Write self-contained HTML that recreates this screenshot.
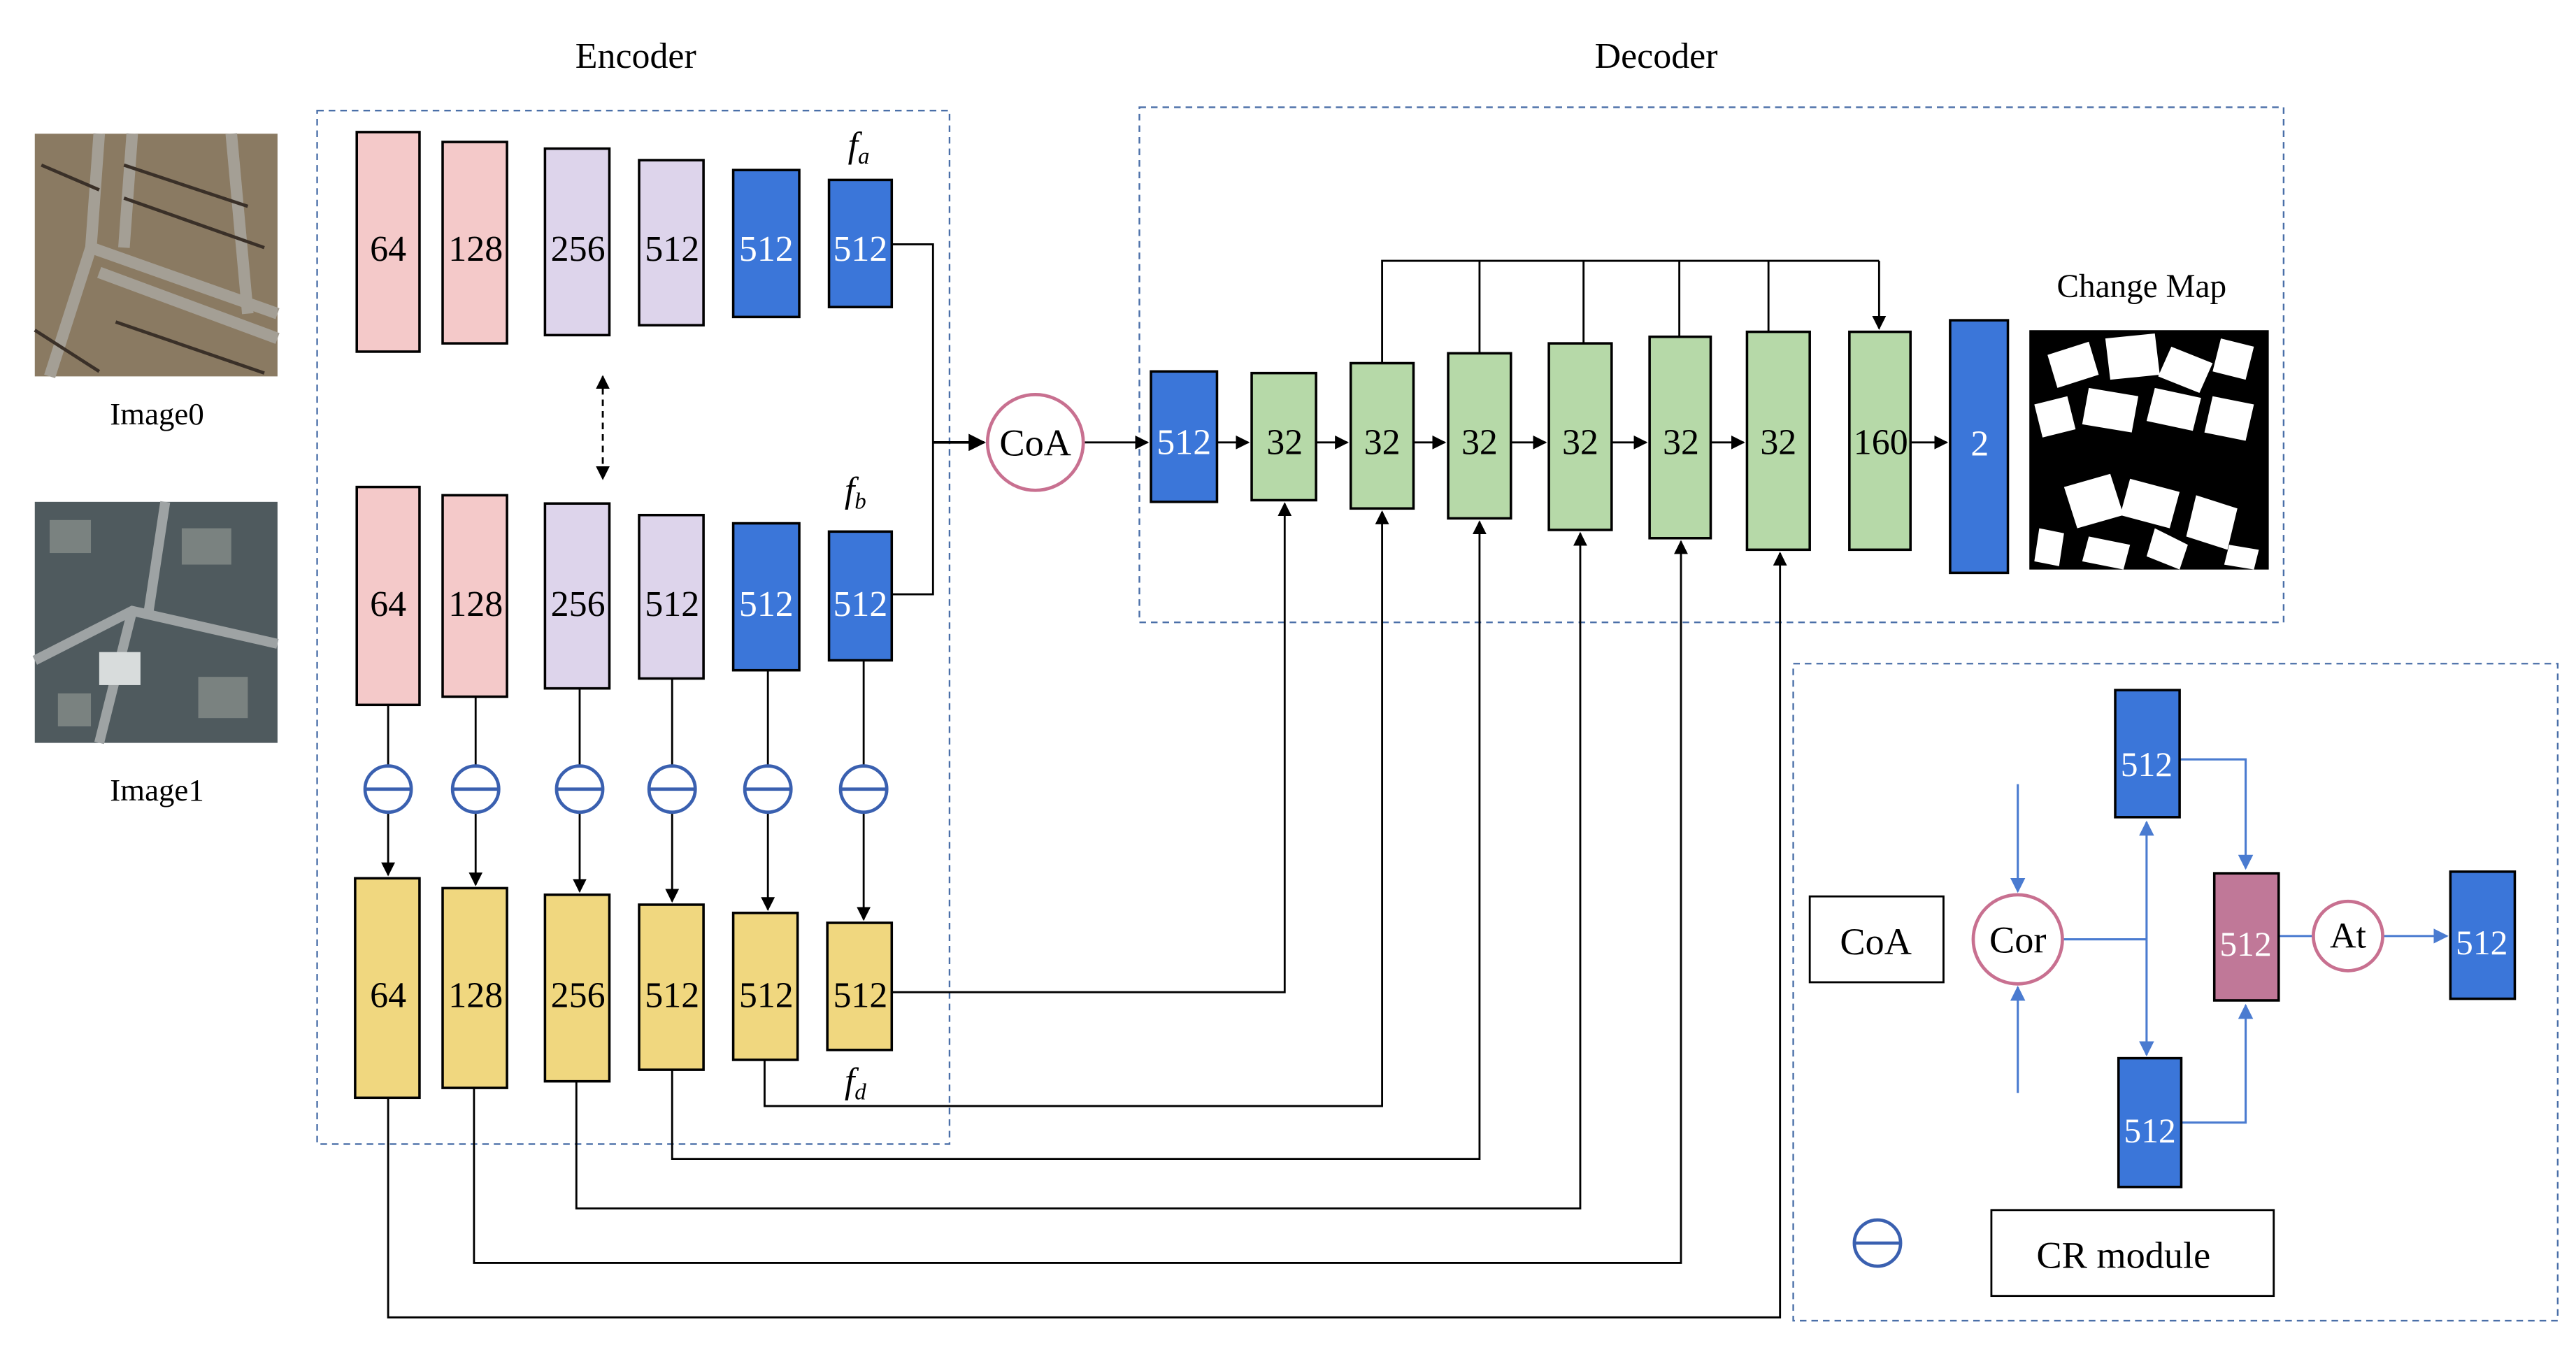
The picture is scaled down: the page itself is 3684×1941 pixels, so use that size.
<!DOCTYPE html>
<html><head><meta charset="utf-8"><style>html,body{margin:0;padding:0;background:#fff}svg{display:block}svg text{font-family:"Liberation Serif","DejaVu Serif",serif}</style></head>
<body>
<svg width="3684" height="1941" viewBox="0 0 1560 822" xmlns="http://www.w3.org/2000/svg">
<defs>
<marker id="a" viewBox="0 0 10 10" refX="9" refY="5" markerWidth="7" markerHeight="7" orient="auto-start-reverse"><path d="M0,0L10,5L0,10z" fill="#000"/></marker>
<marker id="b" viewBox="0 0 10 10" refX="9" refY="5" markerWidth="7" markerHeight="7" orient="auto"><path d="M0,0L10,5L0,10z" fill="#4a7bd0"/></marker>
</defs>
<rect width="1560" height="822" fill="#fff"/>
<text x="385" y="41" font-size="22" text-anchor="middle">Encoder</text>
<text x="1003" y="41" font-size="22" text-anchor="middle">Decoder</text>
<g fill="none" stroke="#4a6fa8" stroke-dasharray="4,3" stroke-width="1">
<rect x="192" y="67" width="383" height="626"/>
<rect x="690" y="65" width="693" height="312"/>
<rect x="1086" y="402" width="463" height="398"/>
</g>
<!-- images -->
<rect x="21" y="81" width="147" height="147" fill="#8a7a62"/>
<path d="M60,81 L55,150 L30,228 M55,150 L168,190 M60,165 L168,205 M80,81 L75,150 M140,81 L150,190" stroke="#a49f95" stroke-width="7" fill="none"/>
<path d="M25,100 L60,115 M75,120 L160,150 M75,100 L150,125 M70,195 L160,226 M21,200 L60,225" stroke="#3a3028" stroke-width="2"/>
<rect x="21" y="304" width="147" height="146" fill="#4f5a5e"/>
<path d="M21,400 L80,370 L168,390 M80,370 L60,450 M100,304 L90,370" stroke="#9ea3a4" stroke-width="6" fill="none"/>
<g fill="#7a8280"><rect x="30" y="315" width="25" height="20"/><rect x="110" y="320" width="30" height="22"/><rect x="120" y="410" width="30" height="25"/><rect x="60" y="395" width="25" height="20" fill="#d8dcdc"/><rect x="35" y="420" width="20" height="20"/></g>
<text x="95" y="257" font-size="19" text-anchor="middle">Image0</text>
<text x="95" y="485" font-size="19" text-anchor="middle">Image1</text>
<g stroke="#000" stroke-width="1.5">
<g fill="#f4c9c9"><rect x="216" y="80" width="38" height="133"/><rect x="268" y="86" width="39" height="122"/><rect x="216" y="295" width="38" height="132"/><rect x="268" y="300" width="39" height="122"/></g>
<g fill="#ddd4eb"><rect x="330" y="90" width="39" height="113"/><rect x="387" y="97" width="39" height="100"/><rect x="330" y="305" width="39" height="112"/><rect x="387" y="312" width="39" height="99"/></g>
<g fill="#3b76d9"><rect x="444" y="103" width="40" height="89"/><rect x="502" y="109" width="38" height="77"/><rect x="444" y="317" width="40" height="89"/><rect x="502" y="322" width="38" height="78"/>
<rect x="697" y="225" width="40" height="79"/><rect x="1181" y="194" width="35" height="153"/></g>
<g fill="#f0d77f"><rect x="215" y="532" width="39" height="133"/><rect x="268" y="538" width="39" height="121"/><rect x="330" y="542" width="39" height="113"/><rect x="387" y="548" width="39" height="100"/><rect x="444" y="553" width="39" height="89"/><rect x="501" y="559" width="39" height="77"/></g>
<g fill="#b6d9a8"><rect x="758" y="226" width="39" height="77"/><rect x="818" y="220" width="38" height="88"/><rect x="877" y="214" width="38" height="100"/><rect x="938" y="208" width="38" height="113"/><rect x="999" y="204" width="37" height="122"/><rect x="1058" y="201" width="38" height="132"/><rect x="1120" y="201" width="37" height="132"/></g>
</g>
<g font-size="22" text-anchor="middle">
<text x="235" y="158">64</text><text x="288" y="158">128</text><text x="350" y="158">256</text><text x="407" y="158">512</text>
<text x="235" y="373">64</text><text x="288" y="373">128</text><text x="350" y="373">256</text><text x="407" y="373">512</text>
<text x="235" y="610">64</text><text x="288" y="610">128</text><text x="350" y="610">256</text><text x="407" y="610">512</text><text x="464" y="610">512</text><text x="521" y="610">512</text>
<g fill="#fff"><text x="464" y="158">512</text><text x="521" y="158">512</text><text x="464" y="373">512</text><text x="521" y="373">512</text><text x="717" y="275">512</text><text x="1199" y="276">2</text></g>
<text x="778" y="275">32</text><text x="837" y="275">32</text><text x="896" y="275">32</text><text x="957" y="275">32</text><text x="1018" y="275">32</text><text x="1077" y="275">32</text><text x="1139" y="275">160</text>
</g>
<g font-size="22" font-style="italic" text-anchor="middle"><text x="520" y="95">f<tspan font-size="14" dy="4">a</tspan></text><text x="518" y="304">f<tspan font-size="14" dy="4">b</tspan></text><text x="518" y="662">f<tspan font-size="14" dy="4">d</tspan></text></g>
<line x1="365" y1="228" x2="365" y2="290" stroke="#000" stroke-width="1.2" stroke-dasharray="4,3" marker-start="url(#a)" marker-end="url(#a)"/>
<g stroke="#000" stroke-width="1.2" fill="none">
<path d="M235,427V464M288,422V464M351,417V464M407,411V464M465,406V464M523,400V464"/>
<line x1="235" y1="492" x2="235" y2="530" marker-end="url(#a)"/>
<line x1="288" y1="492" x2="288" y2="536" marker-end="url(#a)"/>
<line x1="351" y1="492" x2="351" y2="540" marker-end="url(#a)"/>
<line x1="407" y1="492" x2="407" y2="546" marker-end="url(#a)"/>
<line x1="465" y1="492" x2="465" y2="551" marker-end="url(#a)"/>
<line x1="523" y1="492" x2="523" y2="557" marker-end="url(#a)"/>
<path d="M540,148H565V360H540"/>
<line x1="565" y1="268" x2="596" y2="268" marker-end="url(#a)" stroke-width="1.5"/>
<line x1="657" y1="268" x2="695" y2="268" marker-end="url(#a)"/>
<line x1="737" y1="268" x2="756" y2="268" marker-end="url(#a)"/>
<line x1="797" y1="268" x2="816" y2="268" marker-end="url(#a)"/>
<line x1="856" y1="268" x2="875" y2="268" marker-end="url(#a)"/>
<line x1="915" y1="268" x2="936" y2="268" marker-end="url(#a)"/>
<line x1="976" y1="268" x2="997" y2="268" marker-end="url(#a)"/>
<line x1="1036" y1="268" x2="1056" y2="268" marker-end="url(#a)"/>
<line x1="1157" y1="268" x2="1179" y2="268" marker-end="url(#a)"/>
<path d="M837,220V158H1138M896,158V214M959,158V208M1017,158V204M1071,158V201"/>
<line x1="1138" y1="158" x2="1138" y2="199" marker-end="url(#a)"/>
<path d="M540,601H778V305" marker-end="url(#a)"/>
<path d="M463,642V670H837V310" marker-end="url(#a)"/>
<path d="M407,648V702H896V316" marker-end="url(#a)"/>
<path d="M349,655V732H957V323" marker-end="url(#a)"/>
<path d="M287,659V765H1018V328" marker-end="url(#a)"/>
<path d="M235,665V798H1078V335" marker-end="url(#a)"/>
</g>
<g stroke="#3a60b0" stroke-width="2" fill="#fff">
<circle cx="235" cy="478" r="14"/><circle cx="288" cy="478" r="14"/><circle cx="351" cy="478" r="14"/><circle cx="407" cy="478" r="14"/><circle cx="465" cy="478" r="14"/><circle cx="523" cy="478" r="14"/>
<circle cx="1137" cy="753" r="14"/>
</g>
<g stroke="#3a60b0" stroke-width="2"><path d="M221,478H249M274,478H302M337,478H365M393,478H421M451,478H479M509,478H537M1123,753H1151"/></g>
<circle cx="627" cy="268" r="29" fill="#fff" stroke="#c87090" stroke-width="2"/>
<text x="627" y="276" font-size="23" text-anchor="middle">CoA</text>
<rect x="1229" y="200" width="145" height="145" fill="#000"/>
<g fill="#fff">
<path d="M1240,215l25,-8l6,20l-25,8z M1275,205l30,-3l3,25l-30,3z M1315,210l25,10l-8,18l-25,-10z M1345,205l20,5l-5,20l-20,-5z M1232,245l20,-5l5,20l-20,5z M1265,235l30,5l-4,22l-30,-5z M1305,235l28,6l-5,20l-28,-6z M1340,240l25,5l-5,22l-25,-5z M1250,295l28,-8l8,25l-28,8z M1290,290l30,8l-6,22l-30,-8z M1330,300l25,8l-6,25l-25,-8z M1235,320l15,3l-3,20l-15,-3z M1265,325l25,5l-4,15l-25,-5z M1305,320l20,10l-5,15l-20,-8z M1350,330l18,3l-3,12l-18,-3z"/>
</g>
<text x="1297" y="180" font-size="20" text-anchor="middle">Change Map</text>
<rect x="1096" y="543" width="81" height="52" fill="#fff" stroke="#000" stroke-width="1.2"/>
<text x="1136" y="578" font-size="23" text-anchor="middle">CoA</text>
<rect x="1206" y="733" width="171" height="52" fill="#fff" stroke="#000" stroke-width="1.2"/>
<text x="1286" y="768" font-size="23" text-anchor="middle">CR module</text>
<g stroke="#4a7bd0" stroke-width="1.3" fill="none">
<line x1="1222" y1="475" x2="1222" y2="540" marker-end="url(#b)"/>
<line x1="1222" y1="662" x2="1222" y2="598" marker-end="url(#b)"/>
<path d="M1249,569H1300"/>
<line x1="1300" y1="569" x2="1300" y2="498" marker-end="url(#b)"/>
<line x1="1300" y1="569" x2="1300" y2="639" marker-end="url(#b)"/>
<path d="M1320,460H1360V526" marker-end="url(#b)"/>
<path d="M1321,680H1360V609" marker-end="url(#b)"/>
<line x1="1380" y1="567" x2="1401" y2="567"/>
<line x1="1443" y1="567" x2="1482" y2="567" marker-end="url(#b)"/>
</g>
<circle cx="1222" cy="569" r="27" fill="#fff" stroke="#c87090" stroke-width="2"/>
<text x="1222" y="577" font-size="23" text-anchor="middle">Cor</text>
<circle cx="1422" cy="567" r="21" fill="#fff" stroke="#c87090" stroke-width="2"/>
<text x="1422" y="574" font-size="22" text-anchor="middle">At</text>
<g stroke="#000" stroke-width="1.5"><rect x="1281" y="418" width="39" height="77" fill="#3b76d9"/><rect x="1283" y="641" width="38" height="78" fill="#3b76d9"/><rect x="1484" y="528" width="39" height="77" fill="#3b76d9"/><rect x="1341" y="529" width="39" height="77" fill="#c07898"/></g>
<g fill="#fff" font-size="21" text-anchor="middle"><text x="1300" y="470">512</text><text x="1302" y="692">512</text><text x="1503" y="578">512</text><text x="1360" y="579">512</text></g>
</svg>
</body></html>
